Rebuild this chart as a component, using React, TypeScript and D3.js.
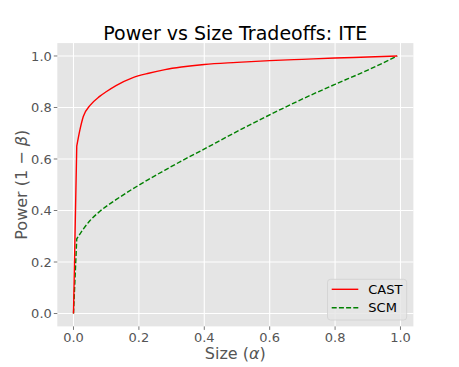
import * as d3 from "d3"

const alphaCast = [0, 0.01, 0.02, 0.03, 0.05, 0.08, 0.1, 0.13, 0.18, 0.23, 0.28, 0.33, 0.4, 0.5, 0.6, 0.7, 0.8, 0.9, 0.99]
const powerCast = [0, 0.65, 0.715, 0.765, 0.807, 0.843, 0.861, 0.885, 0.915, 0.933, 0.947, 0.957, 0.967, 0.975, 0.982, 0.987, 0.992, 0.996, 1.0]

const alphaScm = [0, 0.01, 0.03, 0.05, 0.08, 0.13, 0.18, 0.23, 0.28, 0.33, 0.39, 0.49, 0.59, 0.69, 0.8, 0.9, 0.99]
const powerScm = [0, 0.29, 0.328, 0.36, 0.396, 0.442, 0.483, 0.521, 0.557, 0.592, 0.632, 0.7, 0.765, 0.827, 0.89, 0.945, 1.0]

const xTicks = [0, 0.2, 0.4, 0.6, 0.8, 1.0]
const yTicks = [0, 0.2, 0.4, 0.6, 0.8, 1.0]

const W = 459
const H = 367
const left = 57.3
const right = 413.4
const top = 43.1
const bottom = 326.4

const font = "DejaVu Sans, sans-serif"
const grey = "#555555"

const App = () => {
  const x = d3.scaleLinear().domain([-0.0495, 1.0395]).range([left, right])
  const y = d3.scaleLinear().domain([-0.05, 1.05]).range([bottom, top])

  // the first step (0 -> 0.01) is a straight jump, the rest is smooth
  const jump = d3
    .line<[number, number]>()
    .x((d) => x(d[0]))
    .y((d) => y(d[1]))
  const smooth = d3
    .line<[number, number]>()
    .x((d) => x(d[0]))
    .y((d) => y(d[1]))
    .curve(d3.curveMonotoneX)

  const path = (xs: number[], ys: number[]) => {
    const pts: [number, number][] = xs.map((a, i) => [a, ys[i]])
    const head = jump(pts.slice(0, 2)) ?? ""
    const tail = (smooth(pts.slice(1)) ?? "").replace(/^M/, "L")
    return head + tail
  }

  const cast = path(alphaCast, powerCast)
  const scm = path(alphaScm, powerScm)

  return (
    <svg
      width={W}
      height={H}
      viewBox={`0 0 ${W} ${H}`}
      style={{ position: "absolute", left: 0, top: 0, background: "#fff" }}
      fontFamily={font}
    >
      <rect x={left} y={top} width={right - left} height={bottom - top} fill="#E5E5E5" />
      {xTicks.map((t) => (
        <line key={"gx" + t} x1={x(t)} x2={x(t)} y1={top} y2={bottom} stroke="#fff" strokeWidth={1.1} />
      ))}
      {yTicks.map((t) => (
        <line key={"gy" + t} x1={left} x2={right} y1={y(t)} y2={y(t)} stroke="#fff" strokeWidth={1.1} />
      ))}

      {xTicks.map((t) => (
        <g key={"tx" + t}>
          <line x1={x(t)} x2={x(t)} y1={bottom} y2={bottom + 3.5} stroke={grey} strokeWidth={0.8} />
          <text x={x(t)} y={341.5} textAnchor="middle" fontSize={13} fill={grey}>
            {d3.format(".1f")(t)}
          </text>
        </g>
      ))}
      {yTicks.map((t) => (
        <g key={"ty" + t}>
          <line x1={left - 3.5} x2={left} y1={y(t)} y2={y(t)} stroke={grey} strokeWidth={0.8} />
          <text x={left - 5.5} y={y(t)} dy="0.36em" textAnchor="end" fontSize={13} fill={grey}>
            {d3.format(".1f")(t)}
          </text>
        </g>
      ))}

      <path d={scm} fill="none" stroke="#008000" strokeWidth={1.4} strokeDasharray="5,2.2" />
      <path d={cast} fill="none" stroke="#ff0000" strokeWidth={1.4} />

      <text x={(left + right) / 2} y={40} textAnchor="middle" fontSize={19} fill="#000">
        Power vs Size Tradeoffs: ITE
      </text>
      <text x={(left + right) / 2} y={358.5} textAnchor="middle" fontSize={16} fill={grey}>
        Size (<tspan fontStyle="italic">α</tspan>)
      </text>
      <text
        transform={`translate(21, ${(top + bottom) / 2}) rotate(-90)`}
        textAnchor="middle"
        dy="0.36em"
        fontSize={16}
        fill={grey}
      >
        Power (1 − <tspan fontStyle="italic">β</tspan>)
      </text>

      <g>
        <rect x={327.5} y={279.3} width={79.2} height={40.7} rx={3} fill="#E5E5E5" fillOpacity={0.8} stroke="#d0d0d0" strokeWidth={0.8} />
        <line x1={331.7} x2={358.3} y1={289.3} y2={289.3} stroke="#ff0000" strokeWidth={1.4} />
        <line x1={331.7} x2={358.3} y1={307.7} y2={307.7} stroke="#008000" strokeWidth={1.4} strokeDasharray="5,2.2" />
        <text x={368.3} y={289.3} dy="0.36em" fontSize={13} fill="#000">CAST</text>
        <text x={368.3} y={307.7} dy="0.36em" fontSize={13} fill="#000">SCM</text>
      </g>
    </svg>
  )
}

export default App
